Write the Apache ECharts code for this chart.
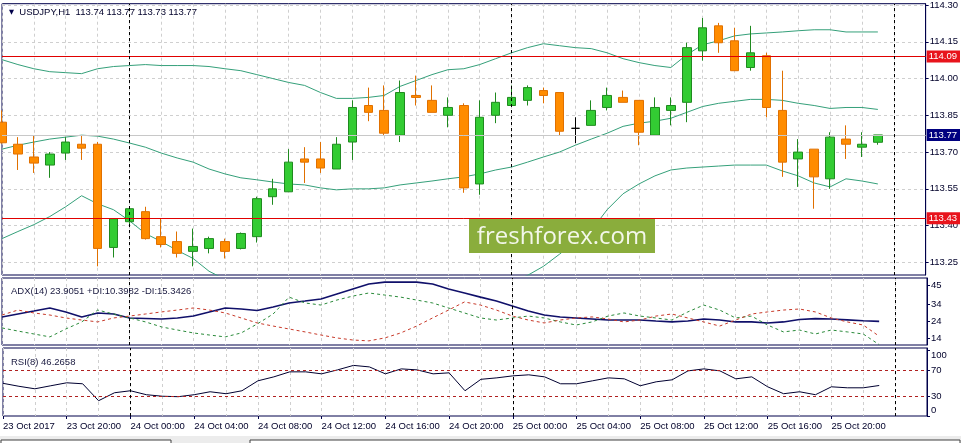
<!DOCTYPE html>
<html><head><meta charset="utf-8">
<script src="https://cdn.jsdelivr.net/npm/echarts@6/dist/echarts.min.js"></script>
<style>html,body{margin:0;padding:0;background:#fff}#c{width:961px;height:443px}</style>
</head><body><div id="c"></div>
<script>
// ---- categories (hourly bars) ----
const categories = [
 '23 Oct 16:00','23 Oct 17:00','23 Oct 18:00','23 Oct 19:00','23 Oct 20:00','23 Oct 21:00','23 Oct 22:00','23 Oct 23:00',
 '24 Oct 00:00','24 Oct 01:00','24 Oct 02:00','24 Oct 03:00','24 Oct 04:00','24 Oct 05:00','24 Oct 06:00','24 Oct 07:00',
 '24 Oct 08:00','24 Oct 09:00','24 Oct 10:00','24 Oct 11:00','24 Oct 12:00','24 Oct 13:00','24 Oct 14:00','24 Oct 15:00',
 '24 Oct 16:00','24 Oct 17:00','24 Oct 18:00','24 Oct 19:00','24 Oct 20:00','24 Oct 21:00','24 Oct 22:00','24 Oct 23:00',
 '25 Oct 00:00','25 Oct 01:00','25 Oct 02:00','25 Oct 03:00','25 Oct 04:00','25 Oct 05:00','25 Oct 06:00','25 Oct 07:00',
 '25 Oct 08:00','25 Oct 09:00','25 Oct 10:00','25 Oct 11:00','25 Oct 12:00','25 Oct 13:00','25 Oct 14:00','25 Oct 15:00',
 '25 Oct 16:00','25 Oct 17:00','25 Oct 18:00','25 Oct 19:00','25 Oct 20:00','25 Oct 21:00','25 Oct 22:00','25 Oct 23:00',
 '26 Oct 00:00','26 Oct 01:00','26 Oct 02:00'
];
const tickLabels = ['23 Oct 2017','23 Oct 20:00','24 Oct 00:00','24 Oct 04:00','24 Oct 08:00','24 Oct 12:00','24 Oct 16:00',
 '24 Oct 20:00','25 Oct 00:00','25 Oct 04:00','25 Oct 08:00','25 Oct 12:00','25 Oct 16:00','25 Oct 20:00'];
const daySeparators = ['24 Oct 00:00','25 Oct 00:00','26 Oct 00:00'];

// ---- USDJPY H1 OHLC ----
const open = [113.822,113.732,113.680,113.647,113.696,113.732,113.732,113.311,113.416,113.457,
 113.355,113.335,113.295,113.307,113.335,113.307,113.355,113.518,113.538,113.672,
 113.672,113.631,113.741,113.890,113.870,113.769,113.931,113.911,113.850,113.890,
 113.570,113.850,113.890,113.911,113.951,113.943,113.797,113.809,113.882,113.923,
 113.911,113.769,113.870,113.903,114.113,114.215,114.154,114.045,114.093,113.870,
 113.672,113.712,113.591,113.753,113.720,113.740];
const close = [113.738,113.692,113.655,113.692,113.741,113.716,113.307,113.428,113.469,113.347,
 113.323,113.287,113.315,113.347,113.295,113.368,113.510,113.550,113.659,113.659,
 113.635,113.732,113.882,113.862,113.777,113.943,113.923,113.862,113.882,113.554,
 113.842,113.903,113.923,113.963,113.931,113.785,113.797,113.870,113.931,113.903,
 113.781,113.882,113.890,114.126,114.207,114.146,114.032,114.105,113.882,113.659,
 113.700,113.599,113.761,113.732,113.732,113.770];
const high = [113.870,113.761,113.769,113.700,113.761,113.769,113.741,113.428,113.473,113.477,
 113.428,113.376,113.388,113.355,113.347,113.372,113.518,113.591,113.712,113.720,
 113.741,113.761,113.911,113.963,113.972,113.992,114.012,113.972,113.923,113.899,
 113.911,113.943,113.972,113.972,113.963,113.943,113.842,113.911,113.963,113.951,
 113.911,113.923,113.923,114.146,114.247,114.227,114.207,114.215,114.105,114.032,
 113.753,113.712,113.781,113.809,113.781,113.770];
const low = [113.735,113.627,113.615,113.595,113.668,113.668,113.234,113.270,113.404,113.343,
 113.311,113.270,113.234,113.287,113.266,113.303,113.331,113.485,113.538,113.574,
 113.615,113.631,113.668,113.826,113.769,113.741,113.890,113.862,113.801,113.534,
 113.526,113.818,113.890,113.890,113.899,113.769,113.737,113.809,113.870,113.903,
 113.728,113.769,113.809,113.822,114.073,114.105,114.032,114.032,113.842,113.599,
 113.558,113.469,113.550,113.672,113.680,113.730];

// ---- Bollinger Bands ----
const bbUpper = [114.077,114.057,114.040,114.028,114.024,114.020,114.040,114.049,114.053,114.057,
 114.053,114.053,114.053,114.049,114.040,114.032,114.016,114.000,113.984,113.972,
 113.943,113.919,113.919,113.923,113.931,113.968,113.992,114.016,114.036,114.040,
 114.057,114.081,114.105,114.126,114.142,114.134,114.126,114.122,114.105,114.081,
 114.065,114.053,114.045,114.097,114.138,114.154,114.174,114.182,114.186,114.190,
 114.195,114.199,114.199,114.190,114.190,114.190];
const bbMiddle = [113.712,113.728,113.741,113.753,113.761,113.769,113.765,113.753,113.737,113.720,
 113.696,113.676,113.659,113.631,113.611,113.595,113.587,113.578,113.570,113.566,
 113.554,113.546,113.550,113.550,113.554,113.566,113.574,113.582,113.591,113.599,
 113.611,113.627,113.639,113.659,113.680,113.700,113.728,113.753,113.777,113.805,
 113.818,113.826,113.838,113.862,113.886,113.899,113.907,113.915,113.915,113.911,
 113.899,113.890,113.878,113.882,113.882,113.874];
const bbLower = [113.347,113.376,113.404,113.437,113.477,113.522,113.489,113.465,113.420,113.368,
 113.335,113.299,113.266,113.214,113.181,113.157,113.153,113.153,113.157,113.161,
 113.165,113.173,113.177,113.177,113.177,113.165,113.157,113.149,113.145,113.157,
 113.165,113.173,113.173,113.197,113.234,113.283,113.335,113.380,113.465,113.530,
 113.570,113.603,113.627,113.635,113.639,113.643,113.647,113.647,113.647,113.623,
 113.603,113.574,113.558,113.591,113.582,113.570];

// ---- ADX(14) ----
const adx = [26.5,28.2,29.9,31.7,29.4,26.5,28.8,28.2,25.9,25.6,25.3,25.9,27.0,29.4,31.7,31.1,30.2,32.3,34.6,35.7,
 36.9,39.8,42.7,45.6,46.7,46.7,46.7,45.6,42.7,40.4,38.0,35.7,32.8,29.9,27.6,26.5,25.9,25.3,24.7,24.7,
 24.7,24.1,23.6,24.1,25.3,24.7,23.6,23.6,23.0,23.6,25.0,25.5,25.3,24.8,24.3,23.9];
const plusDI = [20.1,18.3,16.6,14.9,19.5,23.6,30.5,28.2,25.9,23.6,20.7,18.9,17.2,16.0,14.9,17.2,22.4,28.2,38.0,34.6,
 33.4,36.3,38.6,40.4,39.2,38.0,36.3,34.6,31.7,28.8,25.9,24.7,25.9,27.0,25.9,23.6,21.8,23.6,27.0,28.8,
 27.0,25.9,24.7,29.4,33.4,30.5,25.9,27.0,21.8,17.8,18.9,16.6,18.9,17.8,16.6,10.4];
const minusDI = [27.6,30.5,28.8,27.6,25.9,24.7,23.6,25.9,27.0,28.2,29.4,30.5,31.7,30.5,28.8,25.9,23.0,21.2,19.5,17.8,
 16.0,14.3,13.1,12.6,14.3,17.2,21.2,25.9,30.5,35.2,33.4,30.5,27.0,24.7,23.0,24.7,25.9,26.5,25.3,23.6,
 24.7,27.0,28.2,25.9,23.6,21.2,24.7,28.2,29.4,30.5,31.1,29.4,25.9,23.6,21.8,15.3];

// ---- RSI(8) ----
const rsi = [49.6,45.1,41.3,45.9,50.4,48.9,23.2,35.3,38.3,32.3,30.0,29.3,32.3,36.8,33.8,38.3,53.4,59.4,67.0,67.0,
 64.0,70.0,76.8,74.5,64.0,71.5,70.0,64.0,65.5,38.3,55.7,57.9,60.9,62.5,59.4,48.9,48.9,53.4,57.9,56.4,
 45.9,51.9,54.9,68.5,71.5,68.5,56.4,59.4,44.3,33.8,36.8,32.3,44.3,42.8,42.8,46.3];

const priceTicks = [113.25,113.40,113.55,113.70,113.85,114.00,114.15,114.30];
const adxTicks = [14,24,34,45];
const rsiTicks = [0,30,70,100];
const resistance = 114.09, support = 113.43, lastPrice = 113.77;
const rsiLevels = [70,30];

// ---------------------------------------------------------------
const FONT = 'Liberation Sans';
const TXT = '#00002a';
const NAVY = '#00004a';
const RED = '#e00000';
const candleData = open.map((o,i)=>{
  const item = {value:[o, close[i], low[i], high[i]]};
  if (o === close[i]) item.itemStyle = {color:'#000',color0:'#000',borderColor:'#000',borderColor0:'#000'};
  return item;
});
const sepLines = daySeparators.map(d=>({xAxis:d}));
const sepStyle = {color:'#000',type:[3,3],width:1};

const chart = echarts.init(document.getElementById('c'), null, {renderer:'canvas'});
const gridCommon = {left:2, right:34, show:true, borderColor:NAVY, borderWidth:1, backgroundColor:'#fff'};
const xCommon = {
  type:'category', data:categories, boundaryGap:false,
  axisLine:{show:false}, axisTick:{show:false}, axisLabel:{show:false},
  splitLine:{show:true, interval:1, lineStyle:{color:'#cfcfcf', type:[3,3], width:1}}
};
const yLabel = {fontFamily:FONT, fontSize:9.5, color:TXT, margin:4};
const priceTag = (v, bg) => ({show:true, position:'end', distance:1, formatter:v.toFixed(2), color:'#fff',
  backgroundColor:bg, padding:[1,3,1,2], fontFamily:FONT, fontSize:9.5});

chart.setOption({
  animation:false,
  backgroundColor:'#fff',
  grid:[
    Object.assign({top:0, height:275}, gridCommon),
    Object.assign({top:278, height:67}, gridCommon),
    Object.assign({top:348, height:68}, gridCommon)
  ],
  title:[
    {text:'{a|▼}  USDJPY,H1  113.74 113.77 113.73 113.77', left:4, top:2,
     textStyle:{fontFamily:FONT,fontSize:9.5,color:TXT,fontWeight:'normal',
       rich:{a:{fontFamily:'DejaVu Sans',fontSize:6.5,color:'#00004a'}}}},
    {text:'ADX(14) 23.9051 +DI:10.3982 -DI:15.3426', left:6, top:281,
     textStyle:{fontFamily:FONT,fontSize:9.5,color:'#1a1a40',fontWeight:'normal'}},
    {text:'RSI(8) 46.2658', left:6, top:352,
     textStyle:{fontFamily:FONT,fontSize:9.5,color:'#1a1a40',fontWeight:'normal'}}
  ],
  xAxis:[
    Object.assign({gridIndex:0}, xCommon),
    Object.assign({gridIndex:1}, xCommon),
    Object.assign({gridIndex:2}, xCommon, {
      axisTick:{show:true, length:3, interval:(i)=> i%4===0 && i<56, lineStyle:{color:NAVY}},
      axisLabel:{show:true, interval:(i)=> i%4===0 && i<56, align:'left', margin:5,
        fontFamily:FONT, fontSize:9.5, color:TXT,
        formatter:(v,i)=> tickLabels[i/4] || ''}
    })
  ],
  yAxis:[
    {gridIndex:0, type:'value', position:'right', min:113.1986, max:114.3053,
     axisLine:{show:true, lineStyle:{color:NAVY}},
     axisTick:{show:true, length:3, customValues:priceTicks, lineStyle:{color:NAVY}},
     axisLabel:Object.assign({customValues:priceTicks, formatter:v=>v.toFixed(2)}, yLabel),
     splitLine:{show:true, lineStyle:{color:'#cfcfcf', type:[3,3]}}},
    {gridIndex:1, type:'value', position:'right', min:10.2, max:49.1,
     axisLine:{show:true, lineStyle:{color:NAVY}},
     axisTick:{show:true, length:3, customValues:adxTicks, lineStyle:{color:NAVY}},
     axisLabel:Object.assign({customValues:adxTicks, formatter:v=>String(v)}, yLabel),
     splitLine:{show:false}},
    {gridIndex:2, type:'value', position:'right', min:0, max:103.2,
     axisLine:{show:true, lineStyle:{color:NAVY}},
     axisTick:{show:true, length:3, customValues:rsiTicks, lineStyle:{color:NAVY}},
     axisLabel:Object.assign({customValues:rsiTicks,
       formatter:v=> v===100 ? '{t|100}' : (v===0 ? '{b|0}' : String(v)),
       rich:{t:{fontFamily:FONT,fontSize:9.5,color:TXT,padding:[11,0,0,0]},
             b:{fontFamily:FONT,fontSize:9.5,color:TXT,padding:[0,0,11,0]}}}, yLabel),
     splitLine:{show:false}}
  ],
  graphic:[
    {type:'rect', z:100, shape:{x:469,y:219,width:186,height:34}, style:{fill:'#8aad3c'}},
    {type:'text', z:101, x:562, y:237, style:{text:'freshforex.com', fontFamily:'Open Sans', fontSize:24,
      fill:'#f3f7ea', align:'center', verticalAlign:'middle'}},
    {type:'rect', z:1, shape:{x:0,y:436,width:961,height:7}, style:{fill:'#ececec'}},
    {type:'rect', z:2, shape:{x:1,y:440,width:170,height:4}, style:{fill:'#fff', stroke:'#404040', lineWidth:1}},
    {type:'rect', z:2, shape:{x:250,y:440,width:710,height:4}, style:{fill:'#fff', stroke:'#404040', lineWidth:1}}
  ],
  series:[
    {type:'candlestick', xAxisIndex:0, yAxisIndex:0, data:candleData, barWidth:9, z:3,
     itemStyle:{color:'#33cc33', color0:'#ff8c00', borderColor:'#1f8a1f', borderColor0:'#e07000', borderWidth:1},
     markLine:{silent:true, symbol:['none','none'], animation:false, z:4,
       data:[
        {yAxis:lastPrice, lineStyle:{color:'#c8c8c8',type:'solid',width:1}, label:priceTag(lastPrice,'#000080')},
        {yAxis:resistance, lineStyle:{color:RED,type:'solid',width:1}, label:priceTag(resistance,'#e8141c')},
        {yAxis:support, lineStyle:{color:RED,type:'solid',width:1}, label:priceTag(support,'#e8141c')}
       ].concat(sepLines.map(s=>Object.assign({lineStyle:sepStyle, label:{show:false}}, s)))
     }},
    {type:'line', xAxisIndex:0, yAxisIndex:0, data:bbUpper, symbol:'none', lineStyle:{color:'#35a07a',width:1}, z:1},
    {type:'line', xAxisIndex:0, yAxisIndex:0, data:bbMiddle, symbol:'none', lineStyle:{color:'#35a07a',width:1}, z:1},
    {type:'line', xAxisIndex:0, yAxisIndex:0, data:bbLower, symbol:'none', lineStyle:{color:'#35a07a',width:1}, z:1},
    {type:'line', xAxisIndex:1, yAxisIndex:1, data:adx, symbol:'none', lineStyle:{color:'#10106a',width:1.6}, z:3,
     markLine:{silent:true, symbol:['none','none'], label:{show:false},
       data:sepLines.map(s=>Object.assign({lineStyle:sepStyle}, s))}},
    {type:'line', xAxisIndex:1, yAxisIndex:1, data:plusDI, symbol:'none', lineStyle:{color:'#2a8a3a',width:1,type:[3,3]}},
    {type:'line', xAxisIndex:1, yAxisIndex:1, data:minusDI, symbol:'none', lineStyle:{color:'#c83a2a',width:1,type:[3,3]}},
    {type:'line', xAxisIndex:2, yAxisIndex:2, data:rsi, symbol:'none', lineStyle:{color:'#000030',width:1}, z:3,
     markLine:{silent:true, symbol:['none','none'], label:{show:false},
       data:rsiLevels.map(l=>({yAxis:l, lineStyle:{color:'#b02020',type:[3,3],width:1}}))
         .concat(sepLines.map(s=>Object.assign({lineStyle:sepStyle}, s)))}}
  ]
});
</script></body></html>
